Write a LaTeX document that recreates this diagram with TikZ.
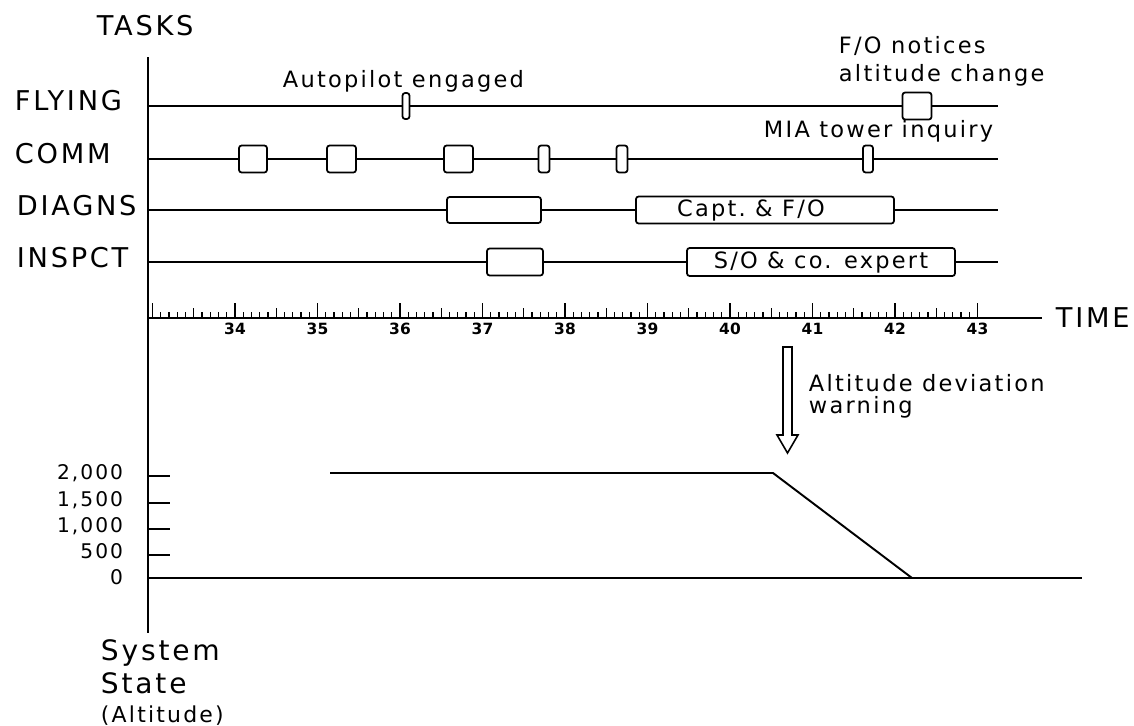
\documentclass[tikz,border=0pt]{standalone}
\usepackage{fontspec}
\setmainfont{DejaVu Sans}[LetterSpace=10]
\newfontfamily\numfont{DejaVu Sans}
\usepackage{tikz}
\usetikzlibrary{positioning,calc}
\newcommand{\bigtxt}{\fontsize{15.5}{18}\selectfont}
\newcommand{\midtxt}{\fontsize{12.8}{16}\selectfont}
\newcommand{\ytxt}{\fontsize{11.5}{13}\selectfont}
\newcommand{\ticktxt}{\numfont\bfseries\fontsize{8.8}{10}\selectfont}
\newcommand{\systxt}{\fontsize{16}{19}\selectfont}
\newcommand{\alttxt}{\fontsize{12.5}{15}\selectfont}

\begin{document}
\begin{tikzpicture}[x=0.2mm,y=-0.2mm,line width=1.1pt,
  rowlabel/.style={anchor=base west,inner sep=0pt,font=\bigtxt},
  note/.style={anchor=base west,inner sep=0pt,font=\midtxt},
  tbox/.style={draw,line width=1pt,rounded corners=1.5pt,fill=white,inner sep=0pt,minimum height=5.4mm,font=\midtxt}]
  \useasboundingbox (0,0) rectangle (1134,725);

  % left axis
  \coordinate (top) at (148,57);
  \coordinate (bot) at (148,633);
  \draw (top) -- (bot);
  \node[rowlabel] (tasks) at (96,35) {TASKS};

  % task rows
  \node[rowlabel] (fly) at (14,110) {FLYING};
  \node[rowlabel] (comm) at (14,163) {COMM};
  \node[rowlabel] (diag) at (16,215) {DIAGNS};
  \node[rowlabel] (insp) at (16,267) {INSPCT};

  \coordinate (fly0) at (148,106);
  \coordinate (fly1) at (998,106);
  \node[tbox,minimum width=1.4mm,minimum height=5.2mm] (ap) at (406,106) {};
  \node[tbox,minimum width=5.8mm] (fo) at (917,106) {};
  \draw (fly0) -- (ap) -- (fo) -- (fly1);

  \coordinate (comm0) at (148,159);
  \coordinate (comm1) at (998,159);
  \node[tbox,minimum width=5.6mm] (c1) at (253,159) {};
  \node[tbox,minimum width=5.8mm] (c2) at (341.5,159) {};
  \node[tbox,minimum width=5.8mm] (c3) at (458.5,159) {};
  \node[tbox,minimum width=2.2mm] (c4) at (544,159) {};
  \node[tbox,minimum width=2.2mm] (c5) at (622,159) {};
  \node[tbox,minimum width=2mm] (mia) at (868,159) {};
  \draw (comm0) -- (c1) -- (c2) -- (c3) -- (c4) -- (c5) -- (mia) -- (comm1);

  \coordinate (diag0) at (148,210);
  \coordinate (diag1) at (998,210);
  \node[tbox,minimum width=18.8mm,minimum height=5.2mm] (d1) at (494,210) {};
  \node[tbox,minimum width=51.6mm] (d2) at (765,210) {Capt.\ \& F/O\hspace*{5.6mm}};
  \draw (diag0) -- (d1) -- (d2) -- (diag1);

  \coordinate (insp0) at (148,262);
  \coordinate (insp1) at (998,262);
  \node[tbox,minimum width=11.2mm] (i1) at (515,262) {};
  \node[tbox,minimum width=53.6mm,minimum height=5.6mm] (i2) at (821,262) {S/O \& co. expert};
  \draw (insp0) -- (i1) -- (i2) -- (insp1);

  % notes
  \node[note] (apnote) at (282,87) {Autopilot engaged};
  \node[note,anchor=north west,align=left] (fonote) at (838,35) {F/O notices\\altitude change};
  \node[note] (mianote) at (763,137) {MIA tower inquiry};

  % time axis
  \coordinate (t0) at (148,318);
  \coordinate (t1) at (1042,318);
  \draw (t0) -- (t1);
  \foreach \i in {0,...,100}{
    \pgfmathsetmacro\tl{mod(\i,10)==0 ? 15 : (mod(\i,5)==0 ? 10 : 6)}
    \draw[line width=0.8pt] ({152.5+8.25*\i},318) -- ++(0,-\tl);
  }
  \foreach \m in {34,...,43}
    \node[anchor=base,inner sep=0pt,font=\ticktxt] (m\m) at ({235+82.5*(\m-34)},334) {\m};
  \node[inner sep=0pt,font=\bigtxt,right=2.6mm of t1] (time) {TIME};

  % warning
  \coordinate (warn) at (787.5,347);
  \draw[line width=0.9pt] (warn) ++(-4.5,0) -- ++(0,88) -- ++(-6,0) -- ++(10.5,18)
    -- ++(10.5,-18) -- ++(-6,0) -- ++(0,-88) -- cycle;
  \node[note,anchor=north west,align=left] (warntxt) at (808,373) {Altitude deviation\\[-3.2pt]warning};

  % system state
  \foreach \yv/\lab in {476/{2,000},503/{1,500},529/{1,000},555/500}{
    \draw (148,\yv) -- (170,\yv);
    \node[anchor=base east,inner sep=0pt,font=\ytxt] (y\yv) at (124,\yv+3) {\lab};
  }
  \node[anchor=base east,inner sep=0pt,font=\ytxt] (y0) at (124,584) {0};
  \coordinate (z0) at (148,578);
  \coordinate (z1) at (1082,578);
  \draw (z0) -- (z1);
  \coordinate (alt0) at (330,473);
  \coordinate (alt1) at (773,473);
  \coordinate (alt2) at (912,578);
  \draw (alt0) -- (alt1) -- (alt2);

  \node[anchor=base west,inner sep=0pt,font=\systxt] (sys) at (100,660) {System};
  \node[anchor=base west,inner sep=0pt,font=\systxt] (state) at (100,693) {State};
  \node[anchor=base west,inner sep=0pt,font=\alttxt] (altlab) at (100,722) {(Altitude)};
\end{tikzpicture}
\end{document}
